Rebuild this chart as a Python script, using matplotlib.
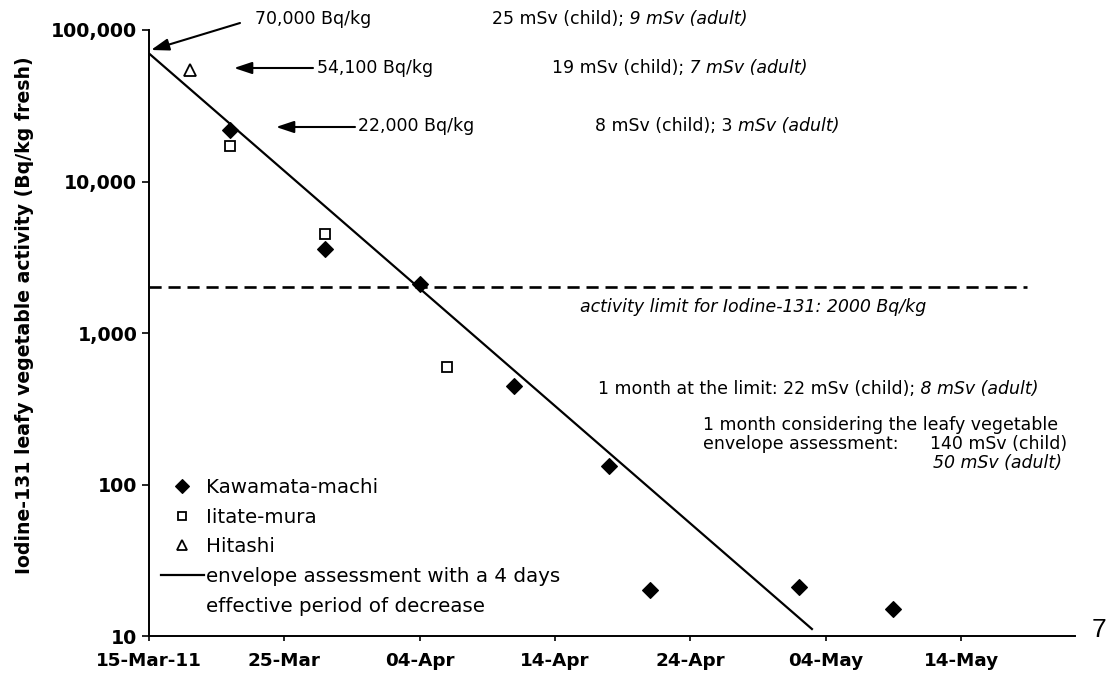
import matplotlib
matplotlib.use('Agg')
import matplotlib.pyplot as plt
import matplotlib.ticker as mticker
from matplotlib.lines import Line2D
import pandas as pd

# ---------------- data ----------------
kawamata_dates = ['2011-03-21', '2011-03-28', '2011-04-04', '2011-04-11',
                  '2011-04-18', '2011-04-21', '2011-05-02', '2011-05-09']
kawamata_vals = [22000, 3600, 2100, 445, 133, 20, 21, 15]

iitate_dates = ['2011-03-21', '2011-03-28', '2011-04-06']
iitate_vals = [17200, 4480, 600]

hitashi_dates = ['2011-03-18']
hitashi_vals = [54100]

envelope_dates = ['2011-03-15T00:00', '2011-05-03T01:00']
envelope_vals = [70000, 11]

limit_dates = ['2011-03-15T00:00', '2011-05-18T20:00']
limit_value = 2000

xlim_dates = ['2011-03-15T00:00', '2011-05-22T10:00']
ylim_vals = [10, 100000]

xtick_dates = ['2011-03-15', '2011-03-25', '2011-04-04', '2011-04-14',
               '2011-04-24', '2011-05-04', '2011-05-14']
xtick_labels = ['15-Mar-11', '25-Mar', '04-Apr', '14-Apr', '24-Apr', '04-May', '14-May']

ytick_vals = [10, 100, 1000, 10000, 100000]
ytick_labels = ['10', '100', '1,000', '10,000', '100,000']

legend_labels = ['Kawamata-machi', 'Iitate-mura', 'Hitashi',
                 'envelope assessment with a 4 days', 'effective period of decrease']

# ---------------- figure ----------------
W, H = 1108, 684
plt.rcParams['font.family'] = ['DejaVu Sans']
fig = plt.figure(figsize=(W / 100, H / 100), dpi=100)


def fx(x):
    return x / W


def fy(y):
    return 1 - y / H


def d(v):
    return pd.to_datetime(v, format='ISO8601')


ax = fig.add_axes([fx(149), fy(636), (1075 - 149) / W, (636 - 30) / H])

ax.plot(d(envelope_dates), envelope_vals, color='black', lw=1.6, solid_capstyle='butt')
ax.plot(d(limit_dates), [limit_value] * len(limit_dates), color='black', lw=1.9,
        ls=(0, (4.6, 2.6)))
kaw, = ax.plot(d(kawamata_dates), kawamata_vals, ls='none', marker='D', ms=8.5,
               mfc='black', mec='black', mew=0.8)
iit, = ax.plot(d(iitate_dates), iitate_vals, ls='none', marker='s', ms=7.5,
               mfc='white', mec='black', mew=1.3)
hit, = ax.plot(d(hitashi_dates), hitashi_vals, ls='none', marker='^', ms=9,
               mfc='white', mec='black', mew=1.3)

ax.set_yscale('log')
ax.set_ylim(*ylim_vals)
ax.set_xlim(d(xlim_dates[0]), d(xlim_dates[1]))
ax.yaxis.set_major_locator(mticker.FixedLocator(ytick_vals))
ax.yaxis.set_major_formatter(mticker.FixedFormatter(ytick_labels))
ax.yaxis.set_minor_locator(mticker.NullLocator())
ax.set_xticks(d(xtick_dates))
ax.set_xticklabels(xtick_labels)
ax.xaxis.set_minor_locator(mticker.NullLocator())

for s in ['top', 'right']:
    ax.spines[s].set_visible(False)
for s in ['left', 'bottom']:
    ax.spines[s].set_linewidth(1.4)
ax.tick_params(axis='y', direction='out', length=5, width=1.2, pad=3.5,
               labelsize=13.7)
ax.tick_params(axis='x', direction='out', length=3.8, width=1.2, pad=8,
               labelsize=13.2)
for lab in ax.get_xticklabels() + ax.get_yticklabels():
    lab.set_fontweight('bold')

# y label
fig.text(fx(25), fy(315), 'Iodine-131 leafy vegetable activity (Bq/kg fresh)',
         rotation=90, ha='center', va='center', fontsize=13.6, fontweight='bold')

# legend
blank = Line2D([], [], color='none')
env_handle = Line2D([], [], color='black', lw=1.6)
leg = fig.legend([kaw, iit, hit, env_handle, blank], legend_labels,
                 loc='upper left', bbox_to_anchor=(fx(161), fy(478)),
                 bbox_transform=fig.transFigure, frameon=False,
                 fontsize=14.3, handlelength=2.16, handletextpad=0.1,
                 borderpad=0, borderaxespad=0, labelspacing=0.54,
                 markerscale=0.8)

# text annotations
TS = 12.5


def put(x, yb, s, style='normal', prev=None, size=TS):
    if prev is None:
        return fig.text(fx(x), fy(yb), s, fontsize=size, style=style,
                        ha='left', va='baseline')
    return ax.annotate(s, xy=(1, fy(yb)), xycoords=(prev, 'figure fraction'),
                       fontsize=size, style=style, ha='left', va='baseline',
                       annotation_clip=False)


put(255, 24, '70,000 Bq/kg')
put(317, 73, '54,100 Bq/kg')
put(358, 131, '22,000 Bq/kg')

t = put(492, 24, '25 mSv (child);')
put(0, 24, ' 9 mSv (adult)', style='italic', prev=t)
t = put(552, 73, '19 mSv (child);')
put(0, 73, ' 7 mSv (adult)', style='italic', prev=t)
t = put(595, 131, '8 mSv (child); 3 ')
put(0, 131, 'mSv (adult)', style='italic', prev=t)

put(580, 312, 'activity limit for Iodine-131: 2000 Bq/kg', style='italic')
t = put(598, 394, '1 month at the limit: 22 mSv (child);')
put(0, 394, ' 8 mSv (adult)', style='italic', prev=t)
put(703, 430, '1 month considering the leafy vegetable')
put(703, 449, 'envelope assessment:')
put(930, 449, '140 mSv (child)')
put(933, 468, '50 mSv (adult)', style='italic')

fig.text(fx(1092), fy(637), '7', fontsize=19, family='Liberation Sans',
         ha='left', va='baseline')

# arrows
arrows = [((240, 23), (151, 50)), ((313, 68), (234, 68)), ((355, 127), (276, 127))]
for tail, head in arrows:
    ax.annotate('', xy=(fx(head[0]), fy(head[1])), xycoords='figure fraction',
                xytext=(fx(tail[0]), fy(tail[1])), textcoords='figure fraction',
                arrowprops=dict(arrowstyle='-|>,head_length=0.6,head_width=0.2',
                                color='black', lw=1.5, mutation_scale=18,
                                shrinkA=0, shrinkB=0),
                annotation_clip=False)

fig.savefig('out.png', dpi=100)
